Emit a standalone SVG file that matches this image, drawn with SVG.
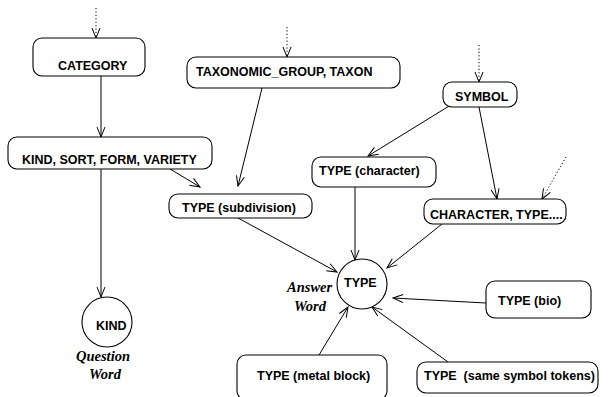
<svg xmlns="http://www.w3.org/2000/svg" width="609" height="397" viewBox="0 0 609 397">
<style>
.box{fill:#fff;stroke:#000;stroke-width:1.1}
.lbl{font-family:"Liberation Sans",Arial,sans-serif;font-weight:bold;font-size:12.5px;fill:#000}
.it{font-family:"Liberation Serif","Times New Roman",serif;font-weight:bold;font-style:italic;font-size:14.5px;fill:#000}
.e{stroke:#000;stroke-width:1;fill:none;marker-end:url(#ah)}
.d{stroke:#000;stroke-width:1;fill:none;stroke-dasharray:1.2 2.2;marker-end:url(#ah)}
</style>
<defs>
<marker id="ah" markerUnits="userSpaceOnUse" markerWidth="12" markerHeight="10" viewBox="0 0 12 10" refX="11" refY="5" orient="auto">
<path d="M1,1 L11,5 L1,9" fill="none" stroke="#000" stroke-width="1"/>
</marker>
</defs>
<rect width="609" height="397" fill="#fff"/>
<g id="connectors">
<line class="d" x1="96" y1="8" x2="96" y2="38"/>
<line class="d" x1="287" y1="27" x2="287" y2="57"/>
<line class="d" x1="479" y1="45" x2="479" y2="82"/>
<line class="d" x1="566" y1="157" x2="542" y2="199"/>
<line class="e" x1="101" y1="76" x2="101" y2="137"/>
<line class="e" x1="101" y1="169" x2="101" y2="297"/>
<line class="e" x1="170" y1="169" x2="200" y2="187"/>
<line class="e" x1="262" y1="88" x2="238" y2="186"/>
<line class="e" x1="238" y1="218" x2="337" y2="272"/>
<line class="e" x1="454" y1="103" x2="368" y2="156"/>
<line class="e" x1="479" y1="107" x2="497" y2="199"/>
<line class="e" x1="355" y1="187" x2="355" y2="260"/>
<line class="e" x1="442" y1="224" x2="387" y2="268"/>
<line class="e" x1="486" y1="303" x2="393" y2="298"/>
<line class="e" x1="319" y1="355" x2="348" y2="307"/>
<line class="e" x1="448" y1="362" x2="372" y2="307"/>
</g>
<g id="category"><rect class="box" x="33" y="38" width="112" height="38" rx="9"/><text class="lbl" x="58" y="70">CATEGORY</text></g>
<g id="kindsort"><rect class="box" x="8" y="137" width="204" height="32" rx="9"/><text class="lbl" x="22" y="164">KIND, SORT, FORM, VARIETY</text></g>
<g id="kind"><circle class="box" cx="107" cy="322" r="25"/><text class="lbl" x="96" y="330">KIND</text>
<text class="it" x="76" y="361">Question</text><text class="it" x="89" y="379">Word</text></g>
<g id="taxon"><rect class="box" x="187" y="57" width="213" height="31" rx="9"/><text class="lbl" x="196" y="76">TAXONOMIC_GROUP, TAXON</text></g>
<g id="subdivision"><rect class="box" x="169" y="194" width="143" height="24" rx="9"/><text class="lbl" x="182" y="212">TYPE (subdivision)</text></g>
<g id="symbol"><rect class="box" x="443" y="82" width="74" height="25" rx="9"/><text class="lbl" x="455" y="101">SYMBOL</text></g>
<g id="character"><rect class="box" x="312" y="157" width="124" height="30" rx="9"/><text class="lbl" x="319" y="175">TYPE (character)</text></g>
<g id="chartype"><rect class="box" x="424" y="199" width="142" height="25" rx="9"/><text class="lbl" x="430" y="219">CHARACTER, TYPE....</text></g>
<g id="type"><circle class="box" cx="362" cy="284" r="25"/><text class="lbl" x="344" y="287">TYPE</text>
<text class="it" x="287" y="292">Answer</text><text class="it" x="294" y="311">Word</text></g>
<g id="bio"><rect class="box" x="486" y="281" width="105" height="37" rx="9"/><text class="lbl" x="498" y="305">TYPE (bio)</text></g>
<g id="metal"><rect class="box" x="237" y="355" width="150" height="45" rx="9"/><text class="lbl" x="257" y="380">TYPE (metal block)</text></g>
<g id="same"><rect class="box" x="417" y="362" width="181" height="31" rx="9"/><text class="lbl" x="424" y="380" xml:space="preserve">TYPE  (same symbol tokens)</text></g>
</svg>
